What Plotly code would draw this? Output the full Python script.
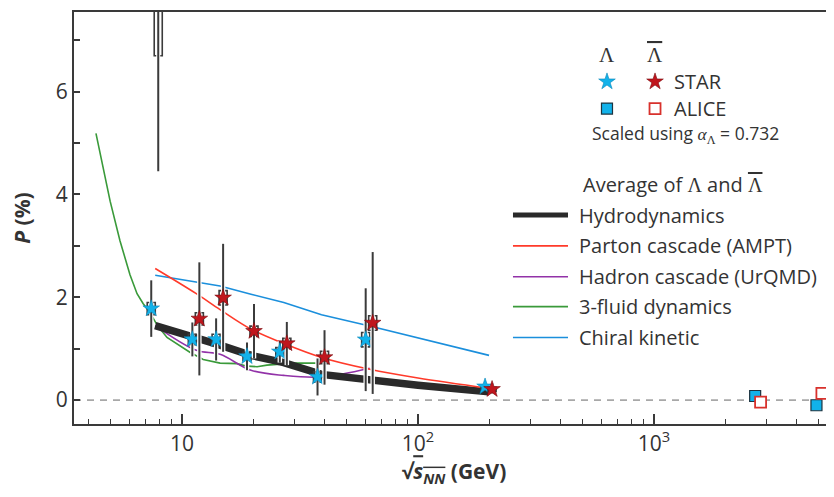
import plotly.graph_objects as go

# ---------------- data ----------------
star_energy = [7.7, 11.5, 14.5, 19.6, 27, 39, 62.4, 200]
star_lambda = [1.78, 1.18, 1.18, 0.85, 0.94, 0.45, 1.175, 0.26]
star_lambda_stat = [0.55, 0.33, 0.41, 0.27, 0.21, 0.36, 1.0, 0.06]
star_lambda_sys = [0.12, 0.1, 0.1, 0.08, 0.08, 0.1, 0.14, 0.04]
star_lambdabar = [8.7, 1.58, 1.99, 1.34, 1.10, 0.83, 1.50, 0.21]
star_lambdabar_stat = [4.25, 1.1, 1.05, 0.53, 0.42, 0.53, 1.38, 0.08]
star_lambdabar_sys = [2.0, 0.12, 0.14, 0.1, 0.1, 0.12, 0.14, 0.04]

alice_energy = [2760, 5020]
alice_lambda = [0.08, -0.10]
alice_lambdabar = [-0.04, 0.13]

hydro_energy = [7.7, 11.5, 14.5, 19.6, 27, 39, 62.4, 100, 200]
hydro_p = [1.45, 1.22, 1.07, 0.87, 0.73, 0.50, 0.39, 0.29, 0.16]

ampt_energy = [7.7, 11.5, 14.5, 19.6, 27, 39, 62.4, 100, 200]
ampt_p = [2.56, 2.07, 1.76, 1.38, 1.10, 0.83, 0.60, 0.43, 0.23]

urqmd_energy = [7.7, 11.5, 14.5, 19.6, 27, 39, 62.4]
urqmd_p = [1.45, 0.97, 0.89, 0.58, 0.48, 0.45, 0.62]

fluid_energy = [4.32, 4.96, 5.46, 6.02, 6.45, 6.84, 7.32, 7.87, 8.64, 9.81, 10.8,
                12.3, 14.5, 17.1, 18.9, 20.8, 22.9, 26, 30.7, 37]
fluid_p = [5.19, 3.87, 3.10, 2.44, 2.07, 1.88, 1.70, 1.45, 1.22, 1.05, 0.93,
           0.79, 0.72, 0.71, 0.66, 0.65, 0.68, 0.70, 0.72, 0.72]

chiral_energy = [7.7, 11.5, 14.5, 19.6, 27, 39, 62.4, 200]
chiral_p = [2.43, 2.29, 2.22, 2.06, 1.90, 1.66, 1.44, 0.87]

x_tick_vals = [10, 100, 1000]
x_tick_text = ["10", "10<sup>2</sup>", "10<sup>3</sup>"]
y_tick_vals = [0, 2, 4, 6]

# ---------------- style ----------------
FONT = "Open Sans"
TXT = "#333333"
AX = "#3a3a3a"
CYAN = "#12b2ea"
RED = "#c0161d"
BAR = "#3b3b3b"
SERIF = "Liberation Serif"
OVL = "text-decoration:overline"

LAM = f"<span style='font-family:{SERIF}'>Λ</span>"
LAMBAR = f"<span style='font-family:{SERIF};{OVL}'>Λ</span>"

shift_l, shift_r = 0.962, 1.03   # visual offsets of Λ / Λ̄ points
alice_l, alice_r = 0.972, 1.025

fig = go.Figure()

# model curves
fig.add_trace(go.Scatter(x=fluid_energy, y=fluid_p, mode="lines",
                         line=dict(color="#3a9a3a", width=1.6), showlegend=False))
fig.add_trace(go.Scatter(x=urqmd_energy, y=urqmd_p, mode="lines", line_shape="spline",
                         line=dict(color="#9232a8", width=1.6), showlegend=False))
fig.add_trace(go.Scatter(x=hydro_energy, y=hydro_p, mode="lines",
                         line=dict(color="#2a2a2a", width=7.5), showlegend=False))
fig.add_trace(go.Scatter(x=chiral_energy, y=chiral_p, mode="lines",
                         line=dict(color="#1b8fdc", width=1.6), showlegend=False))
fig.add_trace(go.Scatter(x=ampt_energy, y=ampt_p, mode="lines", line_shape="spline",
                         line=dict(color="#ff3a2a", width=1.6), showlegend=False))


def brackets(xs, ys, ss):
    bx, by = [], []
    f, fi = 1.04, 1.02
    for x, y, s in zip(xs, ys, ss):
        bx += [x / fi, x / f, x / f, x / fi, None, x * fi, x * f, x * f, x * fi, None]
        by += [y + s, y + s, y - s, y - s, None, y + s, y + s, y - s, y - s, None]
    return bx, by


def star_series(energy, vals, stat, sys, shift, color, edge):
    xs = [e * shift for e in energy]
    fig.add_trace(go.Scatter(x=xs, y=vals, mode="markers", marker=dict(size=1, opacity=0),
                             error_y=dict(type="data", array=stat, color="white",
                                          thickness=4.5, width=0), showlegend=False,
                             hoverinfo="skip"))
    bx, by = brackets(xs, vals, sys)
    fig.add_trace(go.Scatter(x=bx, y=by, mode="lines", line=dict(color=BAR, width=1.6),
                             showlegend=False, hoverinfo="skip"))
    fig.add_trace(go.Scatter(x=xs, y=vals, mode="markers",
                             marker=dict(symbol="star", size=12.5, color=color,
                                         line=dict(color=edge, width=0.6)),
                             error_y=dict(type="data", array=stat, color=BAR,
                                          thickness=2, width=0), showlegend=False))


star_series(star_energy, star_lambda, star_lambda_stat, star_lambda_sys, shift_l, CYAN, "#0a86b8")
star_series(star_energy, star_lambdabar, star_lambdabar_stat, star_lambdabar_sys, shift_r, RED, "#7a0a0e")

fig.add_trace(go.Scatter(x=[e * alice_l for e in alice_energy], y=alice_lambda, mode="markers",
                         marker=dict(symbol="square", size=11, color=CYAN,
                                     line=dict(color="#1d3440", width=1.2)), showlegend=False))
fig.add_trace(go.Scatter(x=[e * alice_r for e in alice_energy], y=alice_lambdabar, mode="markers",
                         marker=dict(symbol="square", size=11, color="white",
                                     line=dict(color="#d8312c", width=1.8)), showlegend=False))

# legend key markers on an overlay (paper-like) axis
fig.add_trace(go.Scatter(x=[0.7013, 0.7645], y=[0.8309, 0.8309], mode="markers",
                         marker=dict(symbol="star", size=12.5, color=[CYAN, RED],
                                     line=dict(color=["#0a86b8", "#7a0a0e"], width=0.6)),
                         xaxis="x2", yaxis="y2", showlegend=False, hoverinfo="skip"))
fig.add_trace(go.Scatter(x=[0.7013, 0.7645], y=[0.7657, 0.7657], mode="markers",
                         marker=dict(symbol="square", size=11, color=[CYAN, "white"],
                                     line=dict(color=["#1d3440", "#d8312c"], width=[1.2, 1.8])),
                         xaxis="x2", yaxis="y2", showlegend=False, hoverinfo="skip"))

minor_x = [v * d for d in (1, 10, 100, 1000) for v in range(2, 10)
           if 3.49 < v * d < 5700]

fig.update_layout(
    width=834, height=497,
    margin=dict(l=66, r=8, t=2, b=81),
    paper_bgcolor="white", plot_bgcolor="white",
    font=dict(family=FONT, size=20, color=TXT),
    xaxis=dict(type="log", range=[0.5424, 3.7627], showgrid=False, zeroline=False,
               showline=True, linecolor=AX, linewidth=2, mirror=True,
               ticks="inside", ticklen=10, tickwidth=1.6, tickcolor=AX,
               tickmode="array", tickvals=x_tick_vals, ticktext=x_tick_text,
               tickfont=dict(size=21, color=TXT),
               minor=dict(tickmode="array", tickvals=minor_x, ticks="inside",
                          ticklen=5, tickwidth=1.4, tickcolor=AX, showgrid=False),
               title=dict(text=f"<b>√<span style='{OVL}'><i>s</i><sub><i>NN</i></sub></span> (GeV)</b>",
                          font=dict(size=21, color=TXT), standoff=8)),
    yaxis=dict(range=[-0.465, 7.55], showgrid=False, zeroline=False,
               showline=True, linecolor=AX, linewidth=2, mirror="ticks",
               ticks="inside", ticklen=6, tickwidth=1.6, tickcolor=AX,
               tickmode="array", tickvals=y_tick_vals,
               tickfont=dict(size=21, color=TXT),
               minor=dict(dtick=1, ticks="inside", ticklen=6, tickwidth=1.6,
                          tickcolor=AX, showgrid=False),
               title=dict(text="<b><i>P</i> (%)</b>", font=dict(size=21, color=TXT),
                          standoff=20)),
    xaxis2=dict(overlaying="x", range=[0, 1], visible=False, fixedrange=True),
    yaxis2=dict(overlaying="y", range=[0, 1], visible=False, fixedrange=True),
)

# dashed zero line
fig.add_shape(type="line", xref="paper", yref="y", x0=0, x1=1, y0=0, y1=0,
              line=dict(color="#a8a8a8", width=1.6, dash="7px,6px"), layer="below")

# upper legend texts
ann = []
ann.append(dict(x=0.7013, y=0.8961, text=LAM, font=dict(size=21, family=SERIF)))
ann.append(dict(x=0.7645, y=0.8961, text=LAMBAR, font=dict(size=21, family=SERIF)))
ann.append(dict(x=0.7868, y=0.8309, text="STAR", xanchor="left", font=dict(size=20)))
ann.append(dict(x=0.7868, y=0.7657, text="ALICE", xanchor="left", font=dict(size=20)))
ann.append(dict(x=0.6789, y=0.7029, xanchor="left", font=dict(size=17.5),
                text=f"Scaled using <span style='font-family:{SERIF}'><i>α</i></span>"
                     f"<sub><span style='font-family:{SERIF}'>Λ</span></sub> = 0.732"))
ann.append(dict(x=0.667, y=0.5821, xanchor="left", font=dict(size=20),
                text=f"Average of {LAM} and {LAMBAR}"))

rows = [("Hydrodynamics", "#2a2a2a", 5, 0.5072),
        ("Parton cascade (AMPT)", "#ff3a2a", 1.6, 0.4324),
        ("Hadron cascade (UrQMD)", "#9232a8", 1.6, 0.3575),
        ("3-fluid dynamics", "#3a9a3a", 1.6, 0.2850),
        ("Chiral kinetic", "#1b8fdc", 1.6, 0.2101)]
for name, col, w, yy in rows:
    ann.append(dict(x=0.6618, y=yy, text=name, xanchor="left", font=dict(size=20)))
    fig.add_shape(type="line", xref="paper", yref="paper", x0=0.5776, x1=0.65,
                  y0=yy, y1=yy, line=dict(color=col, width=w))

for a in ann:
    a.setdefault("xanchor", "center")
    a.update(xref="paper", yref="paper", yanchor="middle", showarrow=False)
    fig.add_annotation(**a)

fig.write_html("out.html")
